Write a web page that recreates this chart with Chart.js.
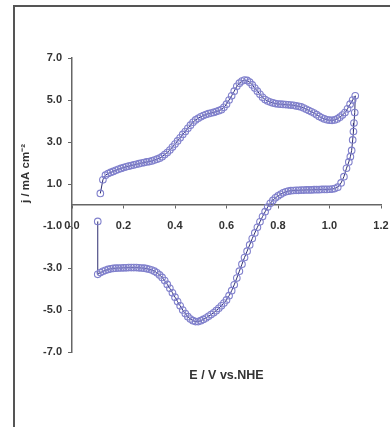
<!DOCTYPE html>
<html>
<head>
<meta charset="utf-8">
<script src="https://cdn.jsdelivr.net/npm/chart.js@4"></script>
<style>
  html, body { margin: 0; padding: 0; background: #fff; overflow: hidden; }
  #wrap { position: relative; width: 390px; height: 427px; }
  #frame { position: absolute; left: 13px; top: 5px; width: 400px; height: 450px;
           border-left: 2px solid #555; border-top: 2px solid #555; }
  canvas { position: absolute; left: 0; top: 0; }
</style>
</head>
<body>
<div id="wrap">
  <div id="frame"></div>
  <canvas id="cv" width="390" height="427"></canvas>
</div>
<script>
// anodic scan (upper branch)
var upperE = [0.11,0.12,0.13,0.14,0.15,0.16,0.17,0.18,0.19,0.20,
  0.21,0.22,0.23,0.24,0.25,0.26,0.27,0.28,0.29,0.30,
  0.31,0.32,0.33,0.34,0.35,0.36,0.37,0.38,0.39,0.40,
  0.41,0.42,0.43,0.44,0.45,0.46,0.47,0.48,0.49,0.50,
  0.51,0.52,0.53,0.54,0.55,0.56,0.57,0.58,0.59,0.60,
  0.61,0.62,0.63,0.64,0.65,0.66,0.67,0.68,0.69,0.70,
  0.71,0.72,0.73,0.74,0.75,0.76,0.77,0.78,0.79,0.80,
  0.81,0.82,0.83,0.84,0.85,0.86,0.87,0.88,0.89,0.90,
  0.91,0.92,0.93,0.94,0.95,0.96,0.97,0.98,0.99,1.00,
  1.01,1.02,1.03,1.04,1.05,1.06,1.07,1.08,1.09,1.10];
var upperJ = [0.55,1.2,1.42,1.5,1.55,1.6,1.65,1.7,1.74,1.78,
  1.82,1.85,1.88,1.91,1.94,1.97,2.0,2.02,2.05,2.07,
  2.1,2.14,2.18,2.23,2.3,2.4,2.5,2.62,2.76,2.9,
  3.05,3.2,3.36,3.5,3.65,3.8,3.94,4.05,4.13,4.2,
  4.26,4.31,4.35,4.38,4.41,4.45,4.49,4.54,4.65,4.8,
  5.0,5.2,5.42,5.65,5.8,5.9,5.95,5.93,5.85,5.72,
  5.57,5.42,5.27,5.13,5.02,4.95,4.9,4.86,4.83,4.81,
  4.8,4.79,4.78,4.77,4.76,4.75,4.72,4.7,4.67,4.62,
  4.56,4.5,4.44,4.38,4.3,4.22,4.15,4.1,4.06,4.04,
  4.03,4.05,4.1,4.18,4.28,4.4,4.58,4.8,5.0,5.2];

// switching potential
var turnE = [1.098,1.095,1.093,1.09,1.086,1.081,1.075,1.066,1.056,1.045,1.032,1.02];
var turnJ = [4.4,3.9,3.5,3.1,2.6,2.3,2.05,1.75,1.35,1.05,0.85,0.78];

// cathodic scan (lower branch)
var lowerE = [1.01,1.00,0.99,0.98,0.97,0.96,0.95,0.94,0.93,0.92,
  0.91,0.90,0.89,0.88,0.87,0.86,0.85,0.84,0.83,0.82,
  0.81,0.80,0.79,0.78,0.77,0.76,0.75,0.74,0.73,0.72,
  0.71,0.70,0.69,0.68,0.67,0.66,0.65,0.64,0.63,0.62,
  0.61,0.60,0.59,0.58,0.57,0.56,0.55,0.54,0.53,0.52,
  0.51,0.50,0.49,0.48,0.47,0.46,0.45,0.44,0.43,0.42,
  0.41,0.40,0.39,0.38,0.37,0.36,0.35,0.34,0.33,0.32,
  0.31,0.30,0.29,0.28,0.27,0.26,0.25,0.24,0.23,0.22,
  0.21,0.20,0.19,0.18,0.17,0.16,0.15,0.14,0.13,0.12,
  0.11,0.10];
var lowerJ = [0.76,0.75,0.74,0.74,0.74,0.73,0.73,0.73,0.72,0.72,
  0.72,0.71,0.71,0.7,0.7,0.69,0.68,0.66,0.63,0.58,
  0.51,0.43,0.34,0.22,0.08,-0.1,-0.32,-0.55,-0.8,-1.06,
  -1.33,-1.6,-1.9,-2.2,-2.5,-2.82,-3.15,-3.48,-3.8,-4.08,
  -4.32,-4.52,-4.67,-4.8,-4.92,-5.03,-5.13,-5.22,-5.3,-5.38,
  -5.45,-5.51,-5.55,-5.55,-5.51,-5.43,-5.32,-5.17,-5.0,-4.8,
  -4.6,-4.39,-4.18,-3.97,-3.78,-3.6,-3.45,-3.33,-3.23,-3.15,
  -3.1,-3.06,-3.03,-3.01,-3.0,-2.99,-2.98,-2.98,-2.98,-2.98,
  -2.99,-2.99,-3.0,-3.0,-3.01,-3.02,-3.04,-3.07,-3.11,-3.16,
  -3.22,-3.3];

var tailE = [0.10];
var tailJ = [-0.78];

var xTicks = [0, 0.2, 0.4, 0.6, 0.8, 1.0, 1.2];
var yTicks = [-7, -5, -3, -1, 1, 3, 5, 7];

function pts(es, js) {
  return es.map(function (e, i) { return { x: e, y: js[i] }; });
}
var cvData = [].concat(pts(upperE, upperJ), pts(turnE, turnJ), pts(lowerE, lowerJ), pts(tailE, tailJ));

Chart.defaults.font.family = "'Liberation Sans', Arial, sans-serif";
Chart.defaults.font.weight = "bold";
Chart.defaults.font.size = 11;
Chart.defaults.color = "#333";

// axis titles drawn relative to the plot area
var axisTitles = {
  id: "axisTitles",
  afterDraw: function (chart) {
    var c = chart.ctx, a = chart.chartArea;
    c.save();
    c.fillStyle = "#333";
    c.textAlign = "center";
    c.textBaseline = "middle";
    c.font = "bold 12.5px 'Liberation Sans', Arial, sans-serif";
    c.fillText("E / V vs.NHE", (a.left + a.right) / 2, a.bottom + 24);
    c.translate(26, chart.scales.y.getPixelForValue(1.5));
    c.rotate(-Math.PI / 2);
    c.font = "bold 11.5px 'Liberation Sans', Arial, sans-serif";
    c.fillText("j / mA cm\u207B\u00B2", 0, 0);
    c.restore();
  }
};

var ctx = document.getElementById("cv");
var chart = new Chart(ctx, {
  type: "scatter",
  data: {
    datasets: [{
      data: cvData,
      showLine: true,
      borderColor: "#2e2e70",
      borderWidth: 1,
      pointRadius: 3.3,
      pointBorderWidth: 1.1,
      pointBorderColor: "#8080cc",
      pointBackgroundColor: "rgba(255,255,255,0)"
    }]
  },
  options: {
    responsive: false,
    animation: false,
    layout: { padding: { left: 14, top: 58, right: 9, bottom: 75 } },
    plugins: {
      legend: { display: false },
      tooltip: { enabled: false },
      title: { display: false }
    },
    scales: {
      x: {
        type: "linear",
        position: { y: 0 },
        min: 0,
        max: 1.2,
        afterBuildTicks: function (s) { s.ticks = xTicks.map(function (v) { return { value: v }; }); },
        afterFit: function (s) { s.paddingRight = 0; s.paddingLeft = 0; },
        ticks: { padding: 11, maxRotation: 0, callback: function (v) { return v.toFixed(1); } },
        grid: { display: true, drawOnChartArea: false, drawTicks: true, tickLength: 3, color: "#666" },
        border: { display: true, color: "#666", width: 1.5 }
      },
      y: {
        type: "linear",
        position: "left",
        min: -7,
        max: 7,
        afterBuildTicks: function (s) { s.ticks = yTicks.map(function (v) { return { value: v }; }); },
        afterFit: function (s) { s.width = 58; },
        ticks: { padding: 6, callback: function (v) { return v.toFixed(1); } },
        grid: { display: true, drawOnChartArea: false, drawTicks: true, tickLength: 4, color: "#666" },
        border: { display: true, color: "#666", width: 1.5 }
      }
    }
  },
  plugins: [axisTitles]
});
</script>
</body>
</html>
